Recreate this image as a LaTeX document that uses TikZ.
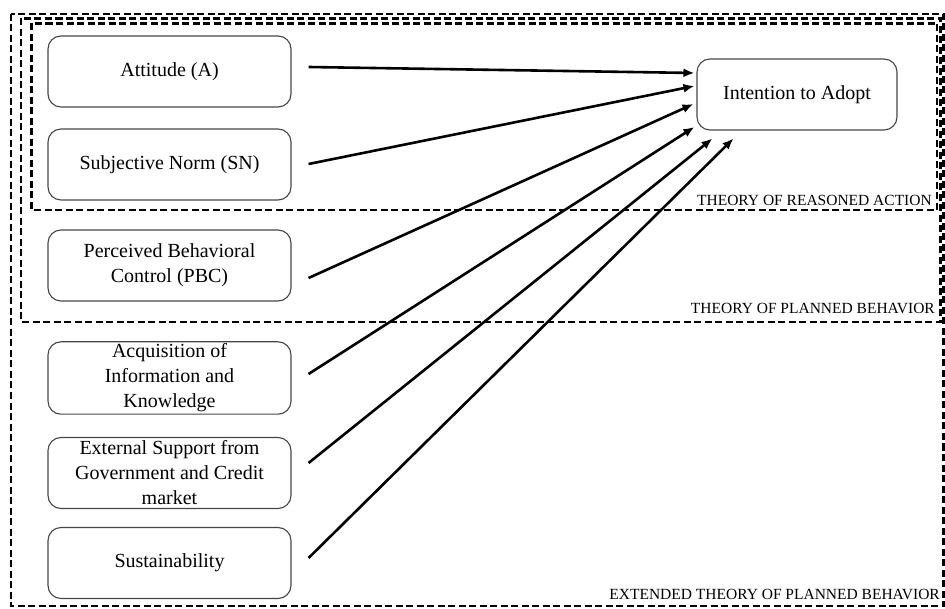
\documentclass[tikz,border=0pt]{standalone}
\usepackage{fontspec}
\setmainfont{Liberation Serif}
\usetikzlibrary{arrows.meta,calc}
\definecolor{boxline}{RGB}{70,70,70}
\tikzset{
  factor/.style={draw=boxline, line width=1.1pt, rounded corners=13pt, minimum width=243pt, minimum height=71pt, align=center, inner sep=2pt, font=\fontsize{20}{25}\selectfont},
  frame/.style={draw=black, line width=2.6pt, dash pattern=on 7pt off 3.5pt},
  framelabel/.style={anchor=base east, inner sep=0pt, font=\fontsize{15.5}{18}\selectfont},
  link/.style={line width=2.6pt, -{Latex[length=11pt,width=9pt]}}
}
\begin{document}
\begin{tikzpicture}[x=1pt,y=-1pt]
\useasboundingbox (0,0) rectangle (945,609);
% frames
\draw[frame] (11,14) rectangle (943.5,606);
\draw[frame] (21,18.5) rectangle (940.5,322);
\draw[frame] (31.5,23.5) rectangle (937,210);
\node[framelabel] (tra) at (932,206) {THEORY OF REASONED ACTION};
\node[framelabel] (tpb) at (935,314) {THEORY OF PLANNED BEHAVIOR};
\node[framelabel] (etpb) at (940,599) {EXTENDED THEORY OF PLANNED BEHAVIOR};
% factor boxes
\node[factor] (att) at (169.5,71.5) {Attitude (A)};
\node[factor] (sn) at (169.5,164.5) {Subjective Norm (SN)};
\node[factor] (pbc) at (169.5,265.5) {Perceived Behavioral\\Control (PBC)};
\node[factor] (aik) at (169.5,378) {Acquisition of\\Information and\\Knowledge};
\node[factor] (ext) at (169.5,473) {External Support from\\Government and Credit\\market};
\node[factor] (sus) at (169.5,563) {Sustainability};
\node[factor, minimum width=200pt] (int) at (797,94.5) {Intention to Adopt};
% start points
\coordinate (s1) at ($(att.east)+(17,-4.5)$);
\coordinate (s2) at ($(sn.east)+(17,-0.5)$);
\coordinate (s3) at ($(pbc.east)+(17,12.5)$);
\coordinate (s4) at ($(aik.east)+(17,-4)$);
\coordinate (s5) at ($(ext.east)+(17,-10)$);
\coordinate (s6) at ($(sus.east)+(17,-5)$);
% end points
\coordinate (e1) at ($(int.west)+(-2,-21.5)$);
\coordinate (e2) at ($(int.west)+(-2,-8.5)$);
\coordinate (e3) at ($(int.west)+(-3,9.5)$);
\coordinate (e4) at ($(int.west)+(-2,32.5)$);
\coordinate (e5) at ($(int.south west)+(16,8)$);
\coordinate (e6) at ($(int.south west)+(37,8)$);
\draw[link] (s1) -- (e1);
\draw[link] (s2) -- (e2);
\draw[link] (s3) -- (e3);
\draw[link] (s4) -- (e4);
\draw[link] (s5) -- (e5);
\draw[link] (s6) -- (e6);
\end{tikzpicture}
\end{document}
